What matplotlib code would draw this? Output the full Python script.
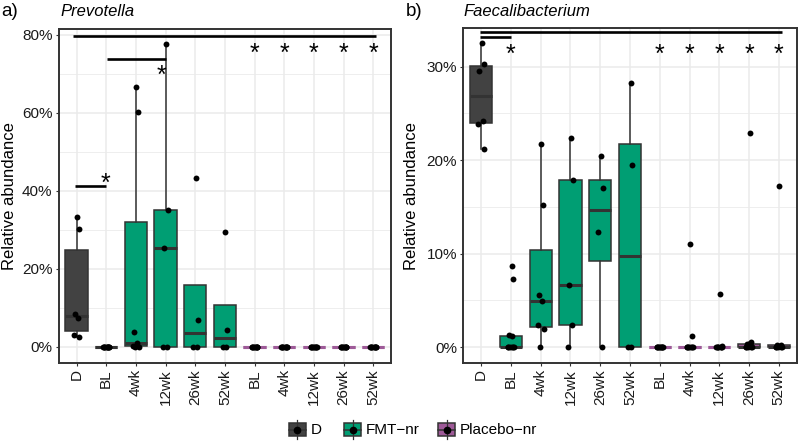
import numpy as np
import matplotlib.pyplot as plt
from matplotlib.patches import Rectangle
from matplotlib.transforms import offset_copy

plt.rcParams['font.family'] = ['Liberation Sans', 'DejaVu Sans']

#-------------------------------------------------------------------------
# data (relative abundance in %)
categories = ['D', 'BL', '4wk', '12wk', '26wk', '52wk',
              'BL', '4wk', '12wk', '26wk', '52wk']
groups = ['D'] + ['FMT-nr'] * 5 + ['Placebo-nr'] * 5
legend_labels = ['D', 'FMT\u2212nr', 'Placebo\u2212nr']

prevotella = [
    [33.4, 30.2, 8.3, 7.3, 3.0, 2.6],
    [0, 0, 0, 0, 0, 0, 0, 0, 0, 0],
    [66.6, 60.3, 3.85, 0.9, 0.2, 0, 0],
    [77.7, 35.1, 25.3, 0, 0],
    [43.2, 6.85, 0, 0],
    [29.4, 4.3, 0, 0],
    [0, 0, 0, 0, 0, 0, 0, 0, 0],
    [0, 0, 0, 0, 0, 0, 0, 0, 0],
    [0, 0, 0, 0, 0, 0, 0, 0, 0],
    [0, 0, 0, 0, 0, 0, 0, 0, 0],
    [0, 0, 0, 0, 0, 0, 0, 0, 0],
]

faecalibacterium = [
    [32.5, 30.26, 29.5, 24.2, 23.9, 21.25],
    [8.64, 7.32, 1.25, 1.15, 0, 0, 0, 0, 0, 0],
    [21.7, 15.2, 5.6, 4.9, 2.4, 1.97, 0],
    [22.4, 17.9, 6.6, 2.4, 0],
    [20.4, 17.0, 12.3, 0],
    [28.3, 19.5, 0, 0],
    [0, 0, 0, 0, 0, 0, 0, 0, 0],
    [11.0, 1.14, 0, 0, 0, 0, 0, 0, 0],
    [5.7, 0.1, 0, 0, 0, 0, 0, 0, 0],
    [22.9, 0.54, 0.36, 0.1, 0.05, 0, 0, 0, 0],
    [17.25, 0.2, 0.18, 0.1, 0.05, 0, 0, 0, 0],
]

# significance annotations: (from, to, level) and (category, level)
prev_bars = [(-0.13, 10.08, 79.75), (1.02, 3.01, 73.8), (-0.06, 0.99, 41.1)]
prev_stars = [(0.99, 43.6), (2.85, 71.3), (6, 77.0), (7, 77.0), (8, 77.0),
              (9, 77.0), (10, 77.0)]
faec_bars = [(-0.03, 10.1, 33.69), (-0.03, 1.01, 33.2)]
faec_stars = [(1, 32.1), (6, 32.1), (7, 32.1), (8, 32.1), (9, 32.1), (10, 32.1)]

#-------------------------------------------------------------------------
fills = {'D': '#424242', 'FMT-nr': '#009E73', 'Placebo-nr': '#9E5A98'}
flat_edge = {'D': '#333333', 'FMT-nr': '#333333', 'Placebo-nr': '#9E5A98'}
edge = '#333333'
grid_col = '#EBEBEB'
JITTER = [0.02, 0.08, -0.06, 0.05, -0.09, 0.1, -0.03, 0.07, -0.1, 0.04]
STAR_FS = 18


def draw_panel(ax, data, ylim, major, minor, bars, stars):
    ax.set_xlim(-0.6, 10.6)
    ax.set_ylim(*ylim)
    ax.set_yticks(major)
    ax.set_yticks(minor, minor=True)
    ax.set_yticklabels(['%d%%' % v for v in major])
    ax.set_xticks(range(len(categories)))
    ax.set_xticklabels(categories, rotation=90)
    ax.grid(True, which='major', color=grid_col, lw=1.1, zorder=0)
    ax.grid(True, which='minor', axis='y', color=grid_col, lw=0.6, zorder=0)
    ax.set_axisbelow(True)
    ax.tick_params(axis='both', which='major', length=2.5, width=0.8,
                   color='#333333', labelsize=11, labelcolor='#1a1a1a', pad=2)
    ax.tick_params(axis='y', which='minor', length=0)
    for s in ax.spines.values():
        s.set_color('#333333')
        s.set_linewidth(1.4)

    for i, vals in enumerate(data):
        g = groups[i]
        bp = ax.boxplot([vals], positions=[i], widths=0.75, patch_artist=True,
                        showfliers=False, showcaps=False, whis=1.5,
                        manage_ticks=False,
                        boxprops=dict(facecolor=fills[g], edgecolor=edge, lw=1.1),
                        whiskerprops=dict(color=edge, lw=1.1),
                        medianprops=dict(color=edge, lw=2.2), zorder=2)
        q1, q3 = np.percentile(vals, [25, 75])
        if q3 - q1 < 1e-9:
            bp['boxes'][0].set_edgecolor(flat_edge[g])
            bp['boxes'][0].set_linewidth(2.2)
            bp['medians'][0].set_color(flat_edge[g])
        offs = np.array([JITTER[k % len(JITTER)] for k in range(len(vals))])
        ax.scatter(i + offs, vals, s=18, color='black', zorder=3, lw=0)

    for x0, x1, y in bars:
        ax.plot([x0, x1], [y, y], color='black', lw=1.9, solid_capstyle='butt',
                zorder=4, clip_on=False)
    tr = offset_copy(ax.transData, fig=ax.figure, y=-0.58 * STAR_FS, units='points')
    for x, y in stars:
        ax.text(x, y, '*', fontsize=STAR_FS, ha='center', va='baseline',
                transform=tr, zorder=5)


#-------------------------------------------------------------------------
W, H = 800.0, 442.0
fig = plt.figure(figsize=(8, 4.42), dpi=100)

ax_a = fig.add_axes([58.7 / W, 1 - 362.7 / H, 332.3 / W, 333.7 / H])
ax_b = fig.add_axes([463.3 / W, 1 - 362.7 / H, 333.4 / W, 334.7 / H])

draw_panel(ax_a, prevotella, (-4.1, 81.5), [0, 20, 40, 60, 80],
           [10, 30, 50, 70], prev_bars, prev_stars)
draw_panel(ax_b, faecalibacterium, (-1.67, 34.15), [0, 10, 20, 30],
           [5, 15, 25], faec_bars, faec_stars)

# titles and axis labels
fig.text(1 / W, 1 - 11 / H, 'a)', fontsize=13.5, va='center', ha='left')
fig.text(60 / W, 1 - 11 / H, 'Prevotella', fontsize=12, style='italic',
         va='center', ha='left')
fig.text(406 / W, 1 - 11 / H, 'b)', fontsize=13.5, va='center', ha='left')
fig.text(463.5 / W, 1 - 11 / H, 'Faecalibacterium', fontsize=12,
         style='italic', va='center', ha='left')
for xpx in (10, 411):
    fig.text(xpx / W, 1 - 196 / H, 'Relative abundance', fontsize=12,
             rotation=90, ha='center', va='center')

# legend drawn in pixel coordinates
lax = fig.add_axes([0, 0, 1, 1], zorder=-1)
lax.set_xlim(0, W)
lax.set_ylim(H, 0)
lax.axis('off')
key_x = [288.5, 344, 438]
yc = 429.5
for kx, lab, g in zip(key_x, legend_labels, ['D', 'FMT-nr', 'Placebo-nr']):
    cx = kx + 8.5
    lax.plot([cx, cx], [420, 439], color=edge, lw=0.9)
    lax.add_patch(Rectangle((kx, yc - 6.5), 17, 13, facecolor=fills[g],
                            edgecolor=edge, lw=1.1))
    lax.plot([kx, kx + 17], [yc, yc], color=edge, lw=1.1)
    lax.plot([cx], [yc], 'o', color='black', ms=4.5)
    lax.text(kx + 22, yc + 1, lab, fontsize=11, ha='left', va='center')

fig.savefig('out.png', dpi=100)
